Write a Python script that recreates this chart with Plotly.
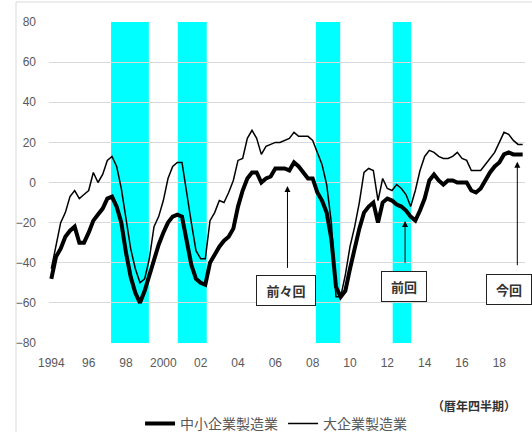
import plotly.graph_objects as go

# Quarterly categories 1994Q1 .. 2019Q2
quarters = [f"{y}Q{q}" for y in range(1994, 2020) for q in range(1, 5)][:102]

small_mfg = [-48, -37, -33, -27, -24, -22, -30, -30, -25, -19,
             -16, -13, -8, -7, -12, -20, -35, -47, -55, -60,
             -54, -46, -39, -31, -25, -20, -17, -16, -17, -29,
             -41, -48, -50, -51, -40, -36, -32, -29, -27, -23,
             -12, -4, 2, 5, 5, 0, 2, 3, 7, 7,
             7, 6, 10, 8, 5, 2, 2, -5, -9, -15,
             -28, -52, -57, -54, -43, -32, -23, -15, -12, -10,
             -20, -10, -8, -9, -11, -12, -14, -17, -19, -14,
             -8, 1, 4, 1, -1, 1, 1, 0, 0, 0,
             -4, -5, -3, 1, 5, 8, 10, 14, 15, 14,
             14, 14]

large_mfg = [-43, -32, -20, -15, -7, -4, -8, -6, -4, 5,
             0, 4, 11, 13, 8, -3, -18, -33, -43, -50,
             -48, -38, -22, -17, -9, 2, 8, 10, 10, -6,
             -20, -34, -38, -38, -19, -15, -9, -10, -5, 1,
             11, 12, 22, 26, 22, 14, 18, 19, 20, 20,
             21, 22, 25, 23, 23, 23, 21, 15, 9, -1,
             -20, -57, -57, -46, -32, -22, -10, 5, 7, 6,
             -9, 2, -3, -4, -1, -3, -6, -12, -4, 6,
             13, 16, 15, 13, 12, 12, 13, 15, 12, 11,
             6, 6, 6, 9, 12, 15, 20, 25, 24, 21,
             19, 19]

tick_cats = ["1994Q1", "1996Q1", "1998Q1", "2000Q1", "2002Q1", "2004Q1", "2006Q1",
             "2008Q1", "2010Q1", "2012Q1", "2014Q1", "2016Q1", "2018Q1"]
tick_text = ["1994", "96", "98", "2000", "02", "04", "06", "08", "10", "12", "14", "16", "18"]

# recession bands (start, end) in quarter-index units
band_start = [12.8, 27.1, 56.7, 73.15]
band_end = [20.9, 33.3, 61.9, 77.1]

labels = ["前々回", "前回", "今回"]

FONT = "Liberation Sans, Noto Sans CJK JP, sans-serif"
JFONT = "Noto Sans CJK JP, sans-serif"

fig = go.Figure()
fig.add_trace(go.Scatter(x=quarters, y=small_mfg, mode="lines", name="中小企業製造業",
                         line=dict(color="black", width=4)))
fig.add_trace(go.Scatter(x=quarters, y=large_mfg, mode="lines", name="大企業製造業",
                         line=dict(color="black", width=1.5)))

shapes = []
for s, e in zip(band_start, band_end):
    shapes.append(dict(type="rect", xref="x", yref="y", x0=s, x1=e, y0=-80, y1=80,
                       fillcolor="#00FFFF", line=dict(width=0), layer="below"))
# outer chart border
shapes.append(dict(type="rect", xref="paper", yref="paper", x0=-0.0693, x1=1.03,
                   y0=-0.32, y1=1.0623, line=dict(color="#d9d9d9", width=1),
                   fillcolor="rgba(0,0,0,0)", layer="below"))

annotations = []
# arrows (head x,y ; tail ax,ay)
arrows = [(50.6, -1.7, 50.6, -43.3), (75.8, -19.2, 75.8, -40.8), (99.85, 10.4, 99.85, -42)]
for hx, hy, tx, ty in arrows:
    annotations.append(dict(x=hx, y=hy, ax=tx, ay=ty, xref="x", yref="y", axref="x", ayref="y",
                            text="", showarrow=True, arrowhead=2, arrowsize=1.2, arrowwidth=1,
                            arrowcolor="black", standoff=0))
boxes = [(50.2, -53.9, 58), (75.6, -51.6, 44), (98.0, -53.1, 44)]
for (bx, by, w), t in zip(boxes, labels):
    annotations.append(dict(x=bx, y=by, xref="x", yref="y", text="<b>" + t + "</b>", showarrow=False,
                            width=w, height=29, bgcolor="white", bordercolor="#222",
                            borderwidth=1, borderpad=0,
                            font=dict(family=JFONT, size=13, color="#333")))
annotations.append(dict(x=0.893, y=-0.196, xref="paper", yref="paper", text="<b>（暦年四半期）</b>",
                        showarrow=False, xanchor="center", yanchor="middle",
                        font=dict(family=JFONT, size=12, color="#333")))

fig.update_layout(
    width=532, height=432,
    margin=dict(l=49, r=7, t=22, b=89, autoexpand=False),
    paper_bgcolor="white", plot_bgcolor="white",
    shapes=shapes, annotations=annotations,
    showlegend=True,
    legend=dict(orientation="h", x=0.477, y=-0.252, xanchor="center", yanchor="middle",
                font=dict(family=JFONT, size=14, color="#595959"), itemwidth=30,
                bgcolor="rgba(0,0,0,0)"),
    font=dict(family=FONT),
)
fig.update_xaxes(type="category", range=[-0.5, 101.5], tickmode="array", tickvals=tick_cats,
                 ticktext=tick_text, showgrid=False, zeroline=False, showline=False,
                 ticks="", tickfont=dict(family=FONT, size=12, color="#595959"),
                 ticklabelstandoff=11, automargin=False)
fig.update_yaxes(range=[-80, 80], tickvals=[-80, -60, -40, -20, 0, 20, 40, 60, 80],
                 showgrid=True, gridcolor="#d9d9d9", gridwidth=1, zeroline=False,
                 showline=False, ticks="", tickfont=dict(family=FONT, size=12, color="#595959"),
                 ticklabelstandoff=12, automargin=False)

fig.write_html("out.html")
